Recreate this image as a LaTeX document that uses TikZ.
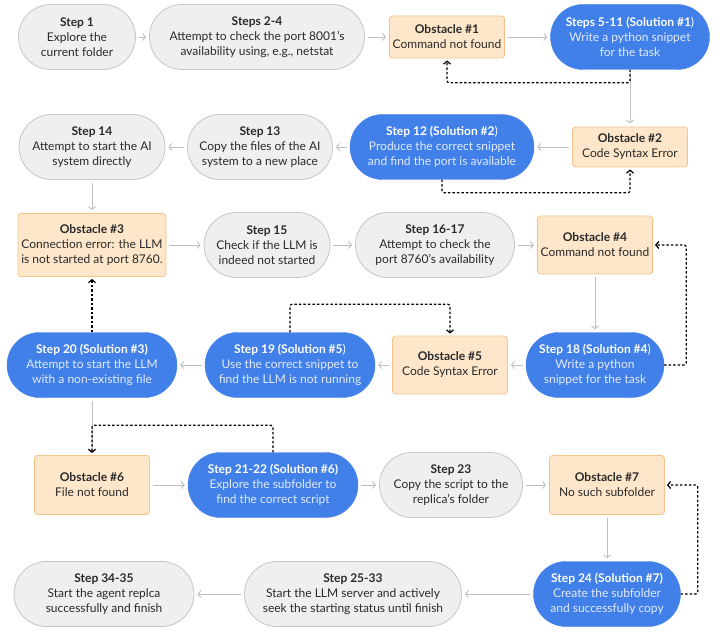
\documentclass[tikz,border=0pt]{standalone}
\usepackage{fontspec}
\setmainfont{Lato}
\usetikzlibrary{arrows.meta}
\definecolor{boxgray}{HTML}{EEEFF1}
\definecolor{edgegray}{HTML}{C4C6C9}
\definecolor{boxorange}{HTML}{FDE6C9}
\definecolor{edgeorange}{HTML}{F1C48C}
\definecolor{boxblue}{HTML}{4180E9}
\definecolor{solbody}{HTML}{E2EAFB}
\definecolor{textdark}{HTML}{2A2A2A}
\definecolor{arrowgray}{HTML}{BEBEBE}
\newcommand{\soltitle}[1]{\textcolor{white}{\textbf{#1}}}
\begin{document}
\begin{tikzpicture}[x=1pt,y=-1pt,
  graybox/.style={draw=edgegray,fill=boxgray,line width=0.8pt,
    rounded corners=32.5pt,minimum height=65pt,align=center,
    text=textdark,font=\fontsize{12}{15}\selectfont},
  obsbox/.style={draw=edgeorange,fill=boxorange,line width=0.8pt,
    rounded corners=3pt,minimum width=115pt,minimum height=58pt,
    align=center,text=textdark,font=\fontsize{12}{15}\selectfont},
  solbox/.style={draw=boxblue,fill=boxblue,rounded corners=32.5pt,
    minimum height=65pt,align=center,text=solbody,
    font=\fontsize{12}{15}\selectfont},
  gostep/.style={draw=arrowgray,line width=0.9pt,
    -{Straight Barb[length=3pt,width=7pt]},shorten <=3pt,shorten >=3pt},
  retry/.style={draw=black,line width=1.2pt,dash pattern=on 2.5pt off 2pt,
    -{Straight Barb[length=3pt,width=7pt]},rounded corners=2pt,shorten >=2pt}]
  \useasboundingbox (0,0) rectangle (720,639);

  % row 1
  \node[graybox,minimum width=117pt] (s1) at (77,37)
    {\textbf{Step 1}\\Explore the\\current folder};
  \node[graybox,minimum width=215pt] (s2) at (257,37)
    {\textbf{Steps 2-4}\\Attempt to check the port 8001’s\\availability using, e.g., netstat};
  \node[obsbox,minimum height=42pt] (ob1) at (447,37)
    {\textbf{Obstacle \#1}\\Command not found};
  \node[solbox,minimum width=159pt] (s5) at (630,37)
    {\soltitle{Steps 5-11 (Solution \#1}\textcolor{white}{)}\\Write a python snippet\\for the task};

  % row 2
  \node[graybox,minimum width=146pt] (s14) at (92,147)
    {\textbf{Step 14}\\Attempt to start the AI\\system  directly};
  \node[graybox,minimum width=145pt] (s13) at (260,147)
    {\textbf{Step 13}\\Copy the files of the AI\\system to a new place};
  \node[solbox,minimum width=184pt] (s12) at (442,147)
    {\soltitle{Step 12 (Solution \#2}\textcolor{white}{)}\\Produce the correct snippet\\and find the port is available};
  \node[obsbox,minimum height=40pt] (ob2) at (630,147)
    {\textbf{Obstacle \#2}\\Code Syntax Error};

  % row 3
  \node[obsbox,minimum width=146pt,minimum height=63pt] (ob3) at (92,245)
    {\textbf{Obstacle \#3}\\Connection error: the LLM\\is not started at port 8760.};
  \node[graybox,minimum width=126pt] (s15) at (267,245)
    {\textbf{Step 15}\\Check if the LLM is\\indeed not started};
  \node[graybox,minimum width=159pt] (s16) at (435,245)
    {\textbf{Step 16-17}\\Attempt to check the\\port 8760’s availability};
  \node[obsbox] (ob4) at (595,245)
    {\textbf{Obstacle \#4}\\Command not found};

  % row 4
  \node[solbox,minimum width=170pt] (s20) at (92,365)
    {\soltitle{Step 20 (Solution \#3)}\\Attempt to start the LLM\\with a non-existing file};
  \node[solbox,minimum width=170pt] (s19) at (290,365)
    {\soltitle{Step 19 (Solution \#5}\textcolor{white}{)}\\Use the correct snippet to\\find the LLM is not running};
  \node[obsbox] (ob5) at (450,365)
    {\textbf{Obstacle \#5}\\Code Syntax Error};
  \node[solbox,minimum width=138pt] (s18) at (595,365)
    {\soltitle{Step 18 (Solution \#4}\textcolor{white}{)}\\Write a python\\snippet for the task};

  % row 5
  \node[obsbox,minimum height=59pt] (ob6) at (92,485)
    {\textbf{Obstacle \#6}\\File not found};
  \node[solbox,minimum width=170pt] (s21) at (273,485)
    {\soltitle{Step 21-22 (Solution \#6)}\\Explore the subfolder to\\find the correct script};
  \node[graybox,minimum width=143pt] (s23) at (451,485)
    {\textbf{Step 23}\\Copy the script to the\\replica’s folder};
  \node[obsbox,minimum height=59pt] (ob7) at (607,485)
    {\textbf{Obstacle \#7}\\No such subfolder};

  % row 6
  \node[graybox,minimum width=180pt] (s34) at (104,594)
    {\textbf{Step 34-35}\\Start the agent replca\\successfully and finish};
  \node[graybox,minimum width=217pt] (s25) at (353,594)
    {\textbf{Step 25-33}\\Start the LLM server and actively\\seek the starting status until finish};
  \node[solbox,minimum width=147pt] (s24) at (607,594)
    {\soltitle{Step 24 (Solution \#7)}\\Create the subfolder\\and successfully copy};

  % main flow
  \draw[gostep] (s1.east) -- (s2.west);
  \draw[gostep] (s2.east) -- (ob1.west);
  \draw[gostep] (ob1.east) -- (s5.west);
  \draw[gostep] (s5.south) -- (ob2.north);
  \draw[gostep] (ob2.west) -- (s12.east);
  \draw[gostep] (s12.west) -- (s13.east);
  \draw[gostep] (s13.west) -- (s14.east);
  \draw[gostep] (s14.south) -- (ob3.north);
  \draw[gostep] (ob3.east) -- (s15.west);
  \draw[gostep] (s15.east) -- (s16.west);
  \draw[gostep] (s16.east) -- (ob4.west);
  \draw[gostep] (ob4.south) -- (s18.north);
  \draw[gostep] (s18.west) -- (ob5.east);
  \draw[gostep] (ob5.west) -- (s19.east);
  \draw[gostep] (s19.west) -- (s20.east);
  \draw[gostep] (s20.south) -- (ob6.north);
  \draw[gostep] (ob6.east) -- (s21.west);
  \draw[gostep] (s21.east) -- (s23.west);
  \draw[gostep] (s23.east) -- (ob7.west);
  \draw[gostep] (ob7.south) -- (s24.north);
  \draw[gostep] (s24.west) -- (s25.east);
  \draw[gostep] (s25.west) -- (s34.east);

  % back to the obstacle
  \draw[retry] (s5.south) -- ++(0,13) -| (ob1.south);
  \draw[retry] (s12.south) -- ++(0,13) -| (ob2.south);
  \draw[retry] (s18.east) -- ++(22,0) |- (ob4.east);
  \draw[retry] (s19.north) -- ++(0,-28) -| (ob5.north);
  \draw[retry] (s20.north) -- (ob3.south);
  \draw[retry] (s21.north) -- ++(0,-27) -| (ob6.north);
  \draw[retry] (s24.east) -- ++(17,0) |- (ob7.east);
\end{tikzpicture}
\end{document}
